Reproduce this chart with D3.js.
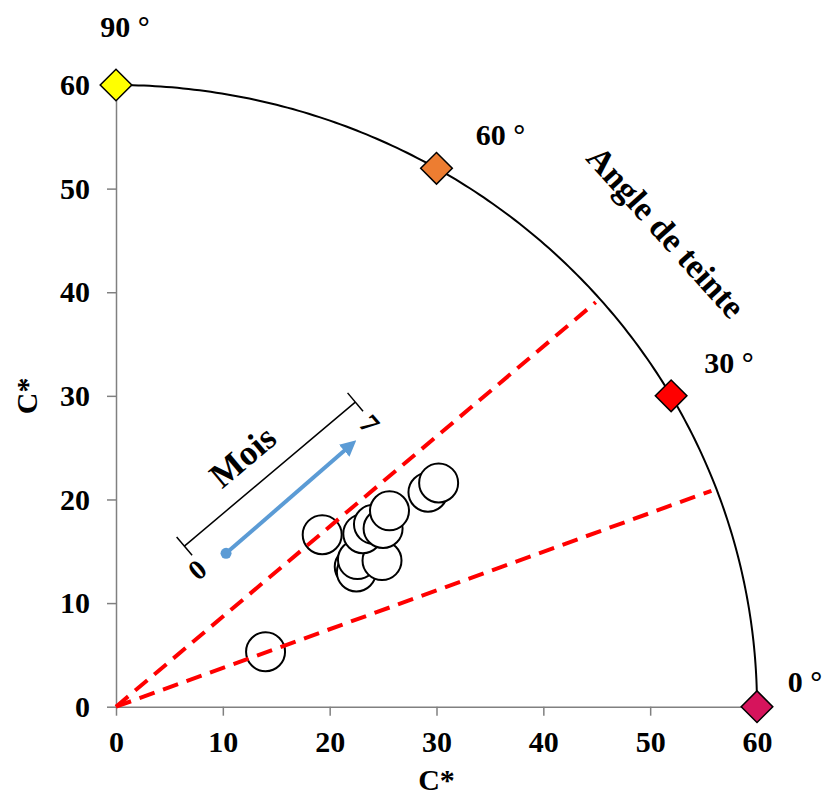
<!DOCTYPE html>
<html><head><meta charset="utf-8">
<script src="https://cdn.jsdelivr.net/npm/d3@7"></script>
<style>
html,body{margin:0;padding:0;background:#fff;}
svg{display:block;}
text{font-family:"Liberation Serif","Times New Roman",serif;font-weight:bold;fill:#000;}
</style></head>
<body>
<svg id="chart" width="825" height="795"></svg>
<script>
// ---- data ----
const tickValues = [0, 10, 20, 30, 40, 50, 60];
const hueAngles = [90, 60, 30, 0];
const hueLabels = ["90 °", "60 °", "30 °", "0 °"];
const hueColors = ["#FFFF00", "#ED7D31", "#FF0000", "#D6145C"];
const chromaRadius = 60;
const samplesA = [14.0, 19.3, 22.3, 22.5, 22.6, 24.9, 23.1, 24.1, 25.0, 25.6, 29.2, 30.2];
const samplesB = [5.3, 16.6, 13.5, 13.0, 14.2, 14.1, 16.7, 17.6, 17.2, 18.9, 20.7, 21.6];
const dashedAngles = [41, 20.5];
const dashedRadius = 59.5;
const moisBracket = [[6.4, 15.5], [22.4, 29.4]];
const moisArrow = [[10.3, 14.8], [22.5, 25.7]];
const moisLabels = ["0", "7"];

const svg = d3.select("#chart");
const x = d3.scaleLinear().domain([0, 60]).range([116, 757]);
const y = d3.scaleLinear().domain([0, 60]).range([706.7, 85]);
const FS = 30;

// axes
const gx = svg.append("g").attr("transform", `translate(0,${y(0)})`)
  .call(d3.axisBottom(x).tickValues(tickValues).tickSize(9).tickSizeOuter(0).tickPadding(15));
const gy = svg.append("g").attr("transform", `translate(${x(0)},0)`)
  .call(d3.axisLeft(y).tickValues(tickValues).tickSize(9).tickSizeOuter(0).tickPadding(17));
[gx, gy].forEach(g => {
  g.selectAll("path.domain").attr("stroke", "#808080").attr("stroke-width", 1.5);
  g.selectAll(".tick line").attr("stroke", "#808080").attr("stroke-width", 1.5);
  g.selectAll(".tick text").attr("font-family", "Liberation Serif, Times New Roman, serif")
    .attr("font-weight", "bold").attr("font-size", FS).attr("fill", "#000");
});

// axis titles
svg.append("text").attr("x", x(30)).attr("y", 790).attr("text-anchor", "middle")
  .attr("font-size", FS).text("C*");
svg.append("text").attr("transform", `translate(37,${y(30)}) rotate(-90)`)
  .attr("text-anchor", "middle").attr("font-size", FS).text("C*");

// arc
const arcPts = d3.range(0, 90.01, 0.5).map(a => [chromaRadius * Math.cos(a * Math.PI / 180), chromaRadius * Math.sin(a * Math.PI / 180)]);
svg.append("path").datum(arcPts)
  .attr("d", d3.line().x(d => x(d[0])).y(d => y(d[1])))
  .attr("fill", "none").attr("stroke", "#000").attr("stroke-width", 2);

// circles (samples)
svg.append("g").selectAll("circle").data(samplesA.map((a, i) => [a, samplesB[i]]))
  .join("circle")
  .attr("cx", d => x(d[0])).attr("cy", d => y(d[1])).attr("r", 19.5)
  .attr("fill", "#fff").attr("stroke", "#000").attr("stroke-width", 2);

// dashed red lines
svg.append("g").selectAll("line").data(dashedAngles).join("line")
  .attr("x1", x(0)).attr("y1", y(0))
  .attr("x2", a => x(dashedRadius * Math.cos(a * Math.PI / 180)))
  .attr("y2", a => y(dashedRadius * Math.sin(a * Math.PI / 180)))
  .attr("stroke", "#FF0000").attr("stroke-width", 4).attr("stroke-dasharray", "16,9");

// Mois bracket
const bx1 = x(moisBracket[0][0]), by1 = y(moisBracket[0][1]);
const bx2 = x(moisBracket[1][0]), by2 = y(moisBracket[1][1]);
const ang = Math.atan2(by2 - by1, bx2 - bx1);
const nx = -Math.sin(ang), ny = Math.cos(ang), cap = 12;
const br = svg.append("g").attr("stroke", "#000").attr("stroke-width", 1.5);
br.append("line").attr("x1", bx1).attr("y1", by1).attr("x2", bx2).attr("y2", by2);
br.append("line").attr("x1", bx1 - nx * cap).attr("y1", by1 - ny * cap).attr("x2", bx1 + nx * cap).attr("y2", by1 + ny * cap);
br.append("line").attr("x1", bx2 - nx * cap).attr("y1", by2 - ny * cap).attr("x2", bx2 + nx * cap).attr("y2", by2 + ny * cap);
const degA = ang * 180 / Math.PI;
svg.append("text").attr("transform", `translate(${(bx1 + bx2) / 2 - 19.5},${(by1 + by2) / 2 - 8.5}) rotate(${degA})`)
  .attr("text-anchor", "middle").attr("font-size", 35).text("Mois");
svg.append("text").attr("transform", `translate(${bx1 + 19},${by1 + 31}) rotate(${degA})`)
  .attr("text-anchor", "middle").attr("font-size", 28).text(moisLabels[0]);
svg.append("text").attr("transform", `translate(${bx2 + 7},${by2 + 28}) rotate(${degA + 90})`)
  .attr("text-anchor", "middle").attr("font-size", 28).text(moisLabels[1]);

// blue arrow
svg.append("defs").append("marker").attr("id", "ah").attr("viewBox", "0 0 10 10")
  .attr("refX", 5).attr("refY", 5).attr("markerWidth", 4).attr("markerHeight", 4)
  .attr("orient", "auto").append("path").attr("d", "M0,0L10,5L0,10z").attr("fill", "#5B9BD5");
const ax1 = x(moisArrow[0][0]), ay1 = y(moisArrow[0][1]);
const ax2 = x(moisArrow[1][0]), ay2 = y(moisArrow[1][1]);
svg.append("line").attr("x1", ax1).attr("y1", ay1).attr("x2", ax2 - 8 * Math.cos(ang)).attr("y2", ay2 - 8 * Math.sin(ang))
  .attr("stroke", "#5B9BD5").attr("stroke-width", 4).attr("marker-end", "url(#ah)");
svg.append("circle").attr("cx", ax1).attr("cy", ay1).attr("r", 5.5).attr("fill", "#5B9BD5");

// diamonds
const dia = hueAngles.map((a, i) => ({a, c: hueColors[i], l: hueLabels[i],
  px: x(chromaRadius * Math.cos(a * Math.PI / 180)), py: y(chromaRadius * Math.sin(a * Math.PI / 180))}));
svg.append("g").selectAll("path").data(dia).join("path")
  .attr("d", d3.symbol(d3.symbolSquare, 500))
  .attr("transform", d => `translate(${d.px},${d.py}) rotate(45)`)
  .attr("fill", d => d.c).attr("stroke", "#000").attr("stroke-width", 1.5);

// hue labels
const labOff = [[9, -48], [64, -23], [58, -23], [48, -15]];
svg.append("g").selectAll("text").data(dia).join("text")
  .attr("x", (d, i) => d.px + labOff[i][0]).attr("y", (d, i) => d.py + labOff[i][1])
  .attr("text-anchor", "middle").attr("font-size", 30).text(d => d.l);

// Angle de teinte
svg.append("text").attr("transform", "translate(666,232) rotate(48)")
  .attr("text-anchor", "middle").attr("dominant-baseline", "central").attr("font-size", 34).text("Angle de teinte");
</script>
</body></html>
